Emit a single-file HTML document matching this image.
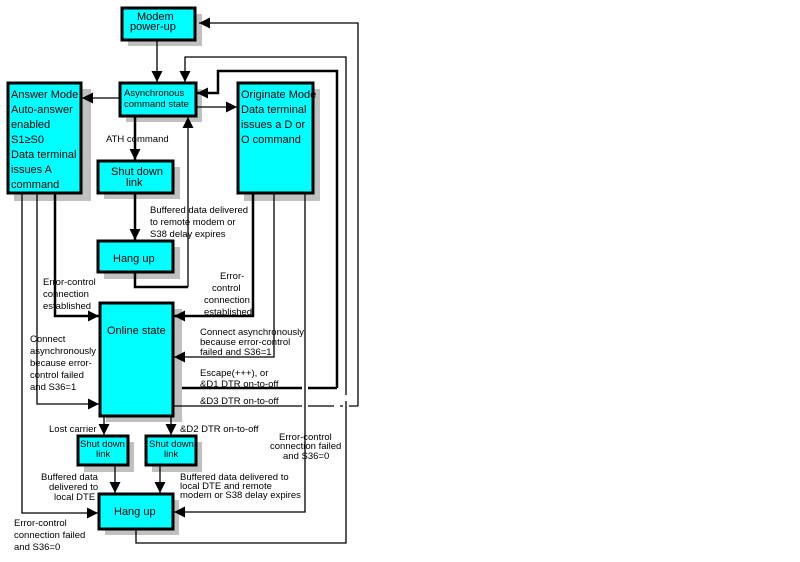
<!DOCTYPE html>
<html><head><meta charset="utf-8"><style>
html,body{margin:0;padding:0;background:#fff;width:800px;height:562px;overflow:hidden}
svg{display:block}
text{font-family:"Liberation Sans",sans-serif;font-size:9.5px;fill:#000}
.b{font-size:11px}
</style></head><body>
<svg width="800" height="562" viewBox="0 0 800 562" xmlns="http://www.w3.org/2000/svg">
<defs>
<marker id="a" viewBox="0 0 10 10" refX="10" refY="5" markerWidth="11" markerHeight="11" markerUnits="userSpaceOnUse" orient="auto"><path d="M0,0 L10,5 L0,10 z" fill="#000"/></marker>
</defs>
<g fill="#c0c0c0">
<rect x="128" y="14" width="74" height="32"/>
<rect x="126" y="89" width="76" height="33"/>
<rect x="14" y="89" width="77" height="112"/>
<rect x="244" y="89" width="76" height="112"/>
<rect x="104" y="167" width="76" height="32"/>
<rect x="104" y="247" width="76" height="32"/>
<rect x="106" y="309" width="76" height="113"/>
<rect x="84" y="442" width="50" height="30"/>
<rect x="152" y="442" width="50" height="30"/>
<rect x="105" y="500" width="74" height="35"/>
</g>
<g fill="#00ffff" stroke="#000" stroke-width="3">
<rect x="122" y="8" width="73" height="32"/>
<rect x="120" y="83" width="76" height="33"/>
<rect x="8" y="83" width="73" height="110"/>
<rect x="238" y="83" width="75" height="110"/>
<rect x="98" y="161" width="75" height="32"/>
<rect x="98" y="241" width="75" height="31"/>
<rect x="100" y="303" width="73" height="113"/>
<rect x="78" y="436" width="50" height="29"/>
<rect x="146" y="436" width="50" height="29"/>
<rect x="99" y="494" width="74" height="35"/>
</g>
<g fill="none" stroke="#000" stroke-width="1.3">
<path d="M157,40 V82" marker-end="url(#a)"/>
<path d="M358,406 V23 H199" marker-end="url(#a)"/>
<path d="M346,395 V57 H185 V82" marker-end="url(#a)"/>
<path d="M120,98 H82" marker-end="url(#a)"/>
<path d="M196,107 H237" marker-end="url(#a)"/>
<path d="M188,287 V117" marker-end="url(#a)"/>
<path d="M22,193 V513 H98" marker-end="url(#a)"/>
<path d="M37,193 V404 H99" marker-end="url(#a)"/>
<path d="M274,193 V357 H174" marker-end="url(#a)"/>
<path d="M305,193 V512 H174" marker-end="url(#a)"/>
<path d="M174,406 H302 M308,406 H334 M340,406 H343 M349,406 H358"/>
<path d="M104,416 V435" marker-end="url(#a)"/>
<path d="M171,416 V435" marker-end="url(#a)"/>
<path d="M115,465 V493" marker-end="url(#a)"/>
<path d="M160,465 V493" marker-end="url(#a)"/>
<path d="M136,529 V543 H346 V401"/>
</g>
<g fill="none" stroke="#000" stroke-width="2.5">
<path d="M337,388 V71 H218 V93 H197" marker-end="url(#a)"/>
<path d="M135,116 V160" marker-end="url(#a)"/>
<path d="M135,193 V240" marker-end="url(#a)"/>
<path d="M135,272 V287 H188"/>
<path d="M55,193 V316 H99" marker-end="url(#a)"/>
<path d="M253,193 V316 H174" marker-end="url(#a)"/>
<path d="M182,388 H302 M308,388 H337"/>
</g>
<text class="b" x="137" y="20">Modem</text>
<text class="b" x="130" y="30">power-up</text>
<text x="124" y="96">Asynchronous</text>
<text x="124" y="107">command state</text>
<text class="b" x="11" y="98">Answer Mode</text>
<text class="b" x="11" y="113">Auto-answer</text>
<text class="b" x="11" y="128">enabled</text>
<text class="b" x="11" y="143">S1≥S0</text>
<text class="b" x="11" y="158">Data terminal</text>
<text class="b" x="11" y="173">issues A</text>
<text class="b" x="11" y="188">command</text>
<text class="b" x="241" y="98">Originate Mode</text>
<text class="b" x="241" y="113">Data terminal</text>
<text class="b" x="241" y="128">issues a D or</text>
<text class="b" x="241" y="143">O command</text>
<text x="106" y="142">ATH command</text>
<text class="b" x="111" y="175">Shut down</text>
<text class="b" x="126" y="186">link</text>
<text class="b" x="113" y="262">Hang up</text>
<text x="150" y="213">Buffered data delivered</text>
<text x="150" y="225">to remote modem or</text>
<text x="150" y="237">S38 delay expires</text>
<text x="220" y="279">Error-</text>
<text x="212" y="291">control</text>
<text x="204" y="303">connection</text>
<text x="204" y="315">established</text>
<text x="43" y="285">Error-control</text>
<text x="43" y="297">connection</text>
<text x="43" y="309">established</text>
<text class="b" x="107" y="334">Online state</text>
<text x="200" y="335">Connect asynchronously</text>
<text x="200" y="345">because error-control</text>
<text x="200" y="355">failed and S36=1</text>
<text x="200" y="376">Escape(+++), or</text>
<text x="200" y="387">&amp;D1 DTR on-to-off</text>
<text x="200" y="404">&amp;D3 DTR on-to-off</text>
<text x="30" y="342">Connect</text>
<text x="30" y="354">asynchronously</text>
<text x="30" y="366">because error-</text>
<text x="30" y="378">control failed</text>
<text x="30" y="390">and S36=1</text>
<text x="49" y="432">Lost carrier</text>
<text x="180" y="432">&amp;D2 DTR on-to-off</text>
<text x="279" y="440">Error-control</text>
<text x="270" y="449">connection failed</text>
<text x="283" y="459">and S36=0</text>
<text x="80" y="447">Shut down</text>
<text x="96" y="457">link</text>
<text x="149" y="447">Shut down</text>
<text x="164" y="457">link</text>
<text x="41" y="480">Buffered data</text>
<text x="49" y="490">delivered to</text>
<text x="54" y="500">local DTE</text>
<text x="180" y="480">Buffered data delivered to</text>
<text x="180" y="489">local DTE and remote</text>
<text x="180" y="498">modem or S38 delay expires</text>
<text class="b" x="114" y="515">Hang up</text>
<text x="14" y="526">Error-control</text>
<text x="14" y="538">connection failed</text>
<text x="14" y="550">and S36=0</text>
</svg>
</body></html>
